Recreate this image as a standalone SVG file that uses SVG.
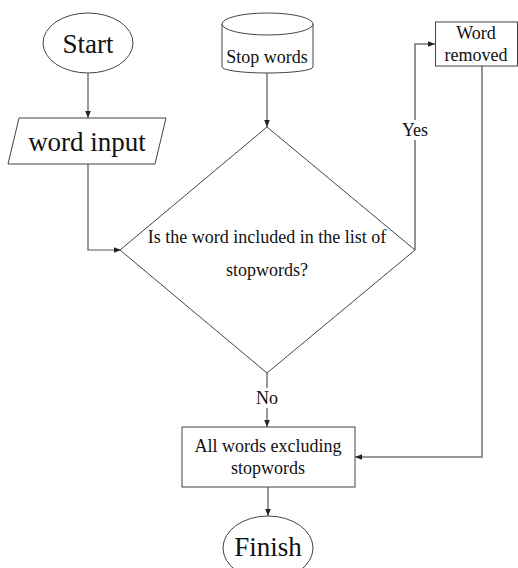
<svg xmlns="http://www.w3.org/2000/svg" width="518" height="568" viewBox="0 0 518 568">
<style>
.s{fill:#fff;stroke:#444;stroke-width:1}
.c{fill:none;stroke:#555;stroke-width:1.2}
.c2{fill:none;stroke:#777;stroke-width:1.6}
text{font-family:"Liberation Serif","Times New Roman",serif;fill:#111;text-anchor:middle}
.big{font-size:27px}
.med{font-size:18px}
</style>
<defs>
<marker id="ah" viewBox="0 0 10 10" refX="10" refY="5" markerWidth="7" markerHeight="7" markerUnits="userSpaceOnUse" orient="auto">
<path d="M0,1 L10,5 L0,9 Z" fill="#222"/>
</marker>
</defs>
<g id="connectors">
<path class="c" d="M88,73 V118" marker-end="url(#ah)"/>
<path class="c" d="M88,164 V250 H121" marker-end="url(#ah)"/>
<path class="c" d="M267,73 V127" marker-end="url(#ah)"/>
<path class="c2" d="M415,250 V44 H435" marker-end="url(#ah)"/>
<path class="c2" d="M482,66 V457 H355" marker-end="url(#ah)"/>
<path class="c" d="M267,373 V427" marker-end="url(#ah)"/>
<path class="c" d="M268,487 V516" marker-end="url(#ah)"/>
<rect x="401" y="120" width="29" height="20" fill="#fff"/>
<text class="med" x="415" y="136">Yes</text>
<rect x="255" y="388" width="25" height="20" fill="#fff"/>
<text class="med" x="267" y="404">No</text>
</g>
<g id="start">
<ellipse class="s" cx="88" cy="43" rx="45" ry="30"/>
<text class="big" x="88" y="53">Start</text>
</g>
<g id="word-input">
<polygon class="s" points="19,118 166,118 155,164 8,164"/>
<text class="big" x="87" y="151">word input</text>
</g>
<g id="stop-words">
<path class="s" d="M222,24 V67 A45.5,6 0 0 0 313,67 V24"/>
<ellipse class="s" cx="267.5" cy="24" rx="45.5" ry="11"/>
<text class="med" x="267" y="63">Stop words</text>
</g>
<g id="decision">
<polygon class="s" points="267,127 415,250 267,373 120,250"/>
<text class="med" x="267" y="243">Is the word included in the list of</text>
<text class="med" x="267" y="276">stopwords?</text>
</g>
<g id="word-removed">
<rect class="s" x="435.5" y="22" width="82" height="44"/>
<text class="med" x="476" y="39">Word</text>
<text class="med" x="476" y="61">removed</text>
</g>
<g id="all-words">
<rect class="s" x="182" y="427" width="173" height="60"/>
<text class="med" x="268" y="452">All words excluding</text>
<text class="med" x="268" y="474">stopwords</text>
</g>
<g id="finish">
<ellipse class="s" cx="268" cy="548" rx="45" ry="32"/>
<text class="big" x="268" y="556">Finish</text>
</g>
</svg>
